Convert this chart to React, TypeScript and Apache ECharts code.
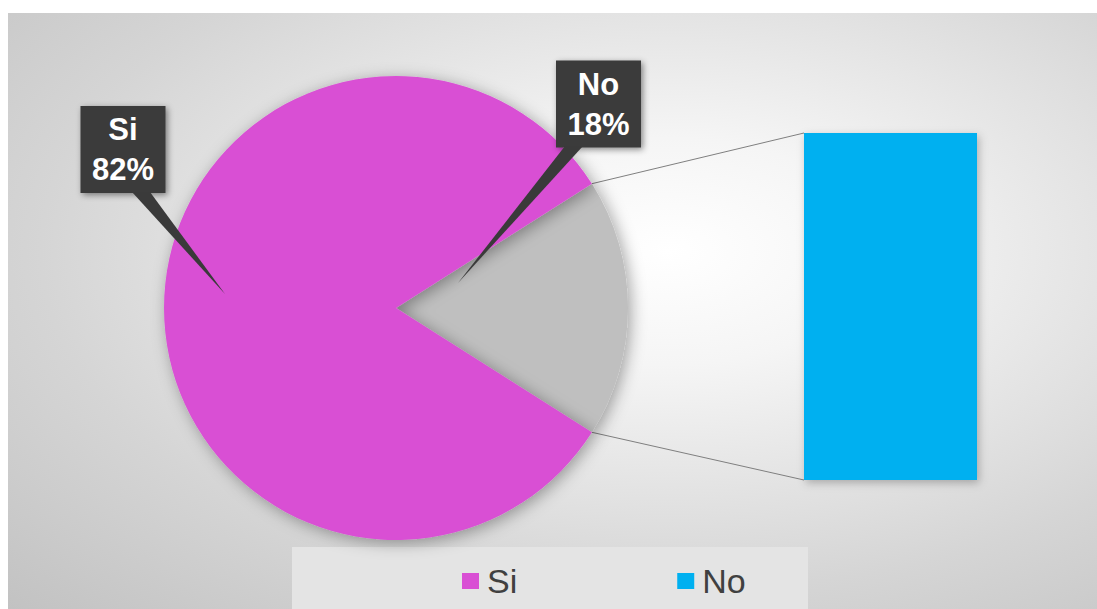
import React, { useEffect, useRef } from "react";
import * as echarts from "echarts";

// ---- data ----
const pieNames = ["No", "Si"];
const pieValues = [18, 82];
const barCategories = ["No"];
const barValues = [18];
const legendNames = ["Si", "No"];

const PINK = "#D94FD4";
const GREY = "#BFBFBF";
const BLUE = "#00B0F0";
const BOX = "#3A3A3A";
const FONT = "Liberation Sans";

export default function App() {
  const ref = useRef<HTMLDivElement>(null);

  useEffect(() => {
    if (!ref.current) return;
    document.documentElement.style.overflow = "hidden";
    document.body.style.overflow = "hidden";
    const chart = echarts.init(ref.current, null, { renderer: "svg" });

    const W = chart.getWidth();
    const H = chart.getHeight();
    const cx = 388;
    const cy = 295;
    const r = 232;
    const total = pieValues.reduce((a, b) => a + b, 0);
    const half = (pieValues[0] / total) * 180;
    const rad = (half * Math.PI) / 180;
    const topPt = [cx + r * Math.cos(rad), cy - r * Math.sin(rad)];
    const botPt = [cx + r * Math.cos(rad), cy + r * Math.sin(rad)];
    const grid = { left: 796, top: 120, width: 173, height: 347 };

    const labelPos = [
      { x: 590.5, y: 91 },
      { x: 115, y: 136.5 },
    ];
    const wedges = [
      [[557, 133], [575, 133], [450, 270]],
      [[124, 179], [142, 179], [217, 281]],
    ];

    const pieColors = [GREY, PINK];
    const legendColors: Record<string, string> = { Si: PINK, No: BLUE };

    chart.setOption({
      animation: false,
      graphic: [
        {
          type: "rect",
          z: 0,
          shape: { x: 0, y: 0, width: W, height: H },
          style: {
            fill: new echarts.graphic.RadialGradient(0.6, 0.4, 0.95, [
              { offset: 0, color: "#ffffff" },
              { offset: 0.2, color: "#f5f5f5" },
              { offset: 0.6, color: "#d5d5d5" },
              { offset: 1, color: "#bbbbbb" },
            ]),
          },
          silent: true,
        },
        {
          type: "rect",
          z: 1,
          shape: { x: 284, y: 534, width: 516, height: 62 },
          style: { fill: "#e4e4e4" },
          silent: true,
        },
        {
          type: "line",
          z: 1,
          shape: { x1: topPt[0], y1: topPt[1], x2: grid.left, y2: grid.top },
          style: { stroke: "#7f7f7f", lineWidth: 1 },
          silent: true,
        },
        {
          type: "line",
          z: 1,
          shape: {
            x1: botPt[0],
            y1: botPt[1],
            x2: grid.left,
            y2: grid.top + grid.height,
          },
          style: { stroke: "#7f7f7f", lineWidth: 1 },
          silent: true,
        },
        ...wedges.map((pts) => ({
          type: "polygon",
          z: 5,
          shape: { points: pts },
          style: { fill: BOX },
          silent: true,
        })),
      ],
      legend: {
        data: legendNames.map((n) => ({
          name: n,
          itemStyle: { color: legendColors[n] },
        })),
        left: 449,
        top: 546,
        icon: "rect",
        itemWidth: 17,
        itemHeight: 16,
        itemGap: 160,
        selectedMode: false,
        textStyle: {
          fontSize: 34,
          color: "#404040",
          fontFamily: FONT,
          padding: [0, 0, 0, 3],
        },
      },
      grid: { ...grid, containLabel: false },
      xAxis: { type: "category", data: barCategories, show: false },
      yAxis: { type: "value", min: 0, max: "dataMax", show: false },
      series: [
        {
          type: "pie",
          name: "pie",
          center: [cx, cy],
          radius: r,
          startAngle: half,
          clockwise: true,
          avoidLabelOverlap: false,
          silent: true,
          data: pieNames.map((n, i) => ({
            name: n,
            value: pieValues[i],
            itemStyle: { color: pieColors[i] },
          })),
          itemStyle: {
            shadowBlur: 16,
            shadowColor: "rgba(0,0,0,0.35)",
            shadowOffsetX: 3,
            shadowOffsetY: 3,
          },
          label: {
            show: true,
            position: "outside",
            formatter: "{b}\n{c}%",
            color: "#ffffff",
            fontFamily: FONT,
            fontWeight: "bold",
            fontSize: 31,
            lineHeight: 40,
            align: "center",
            backgroundColor: BOX,
            padding: [4, 10, 3, 10],
            width: 65,
            height: 80,
            shadowBlur: 6,
            shadowColor: "rgba(0,0,0,0.45)",
            shadowOffsetX: 2,
            shadowOffsetY: 2,
          },
          labelLine: { show: false },
          labelLayout: (p: any) => ({
            x: labelPos[p.dataIndex].x,
            y: labelPos[p.dataIndex].y,
            align: "center",
            verticalAlign: "middle",
          }),
        },
        {
          type: "bar",
          name: "No",
          data: barValues,
          barCategoryGap: "0%",
          silent: true,
          itemStyle: {
            color: BLUE,
            shadowBlur: 8,
            shadowColor: "rgba(0,0,0,0.25)",
            shadowOffsetX: 2,
            shadowOffsetY: 3,
          },
        },
      ],
    });

    return () => chart.dispose();
  }, []);

  return (
    <div
      ref={ref}
      style={{ position: "absolute", left: 8, top: 13, width: 1100, height: 596 }}
    />
  );
}
